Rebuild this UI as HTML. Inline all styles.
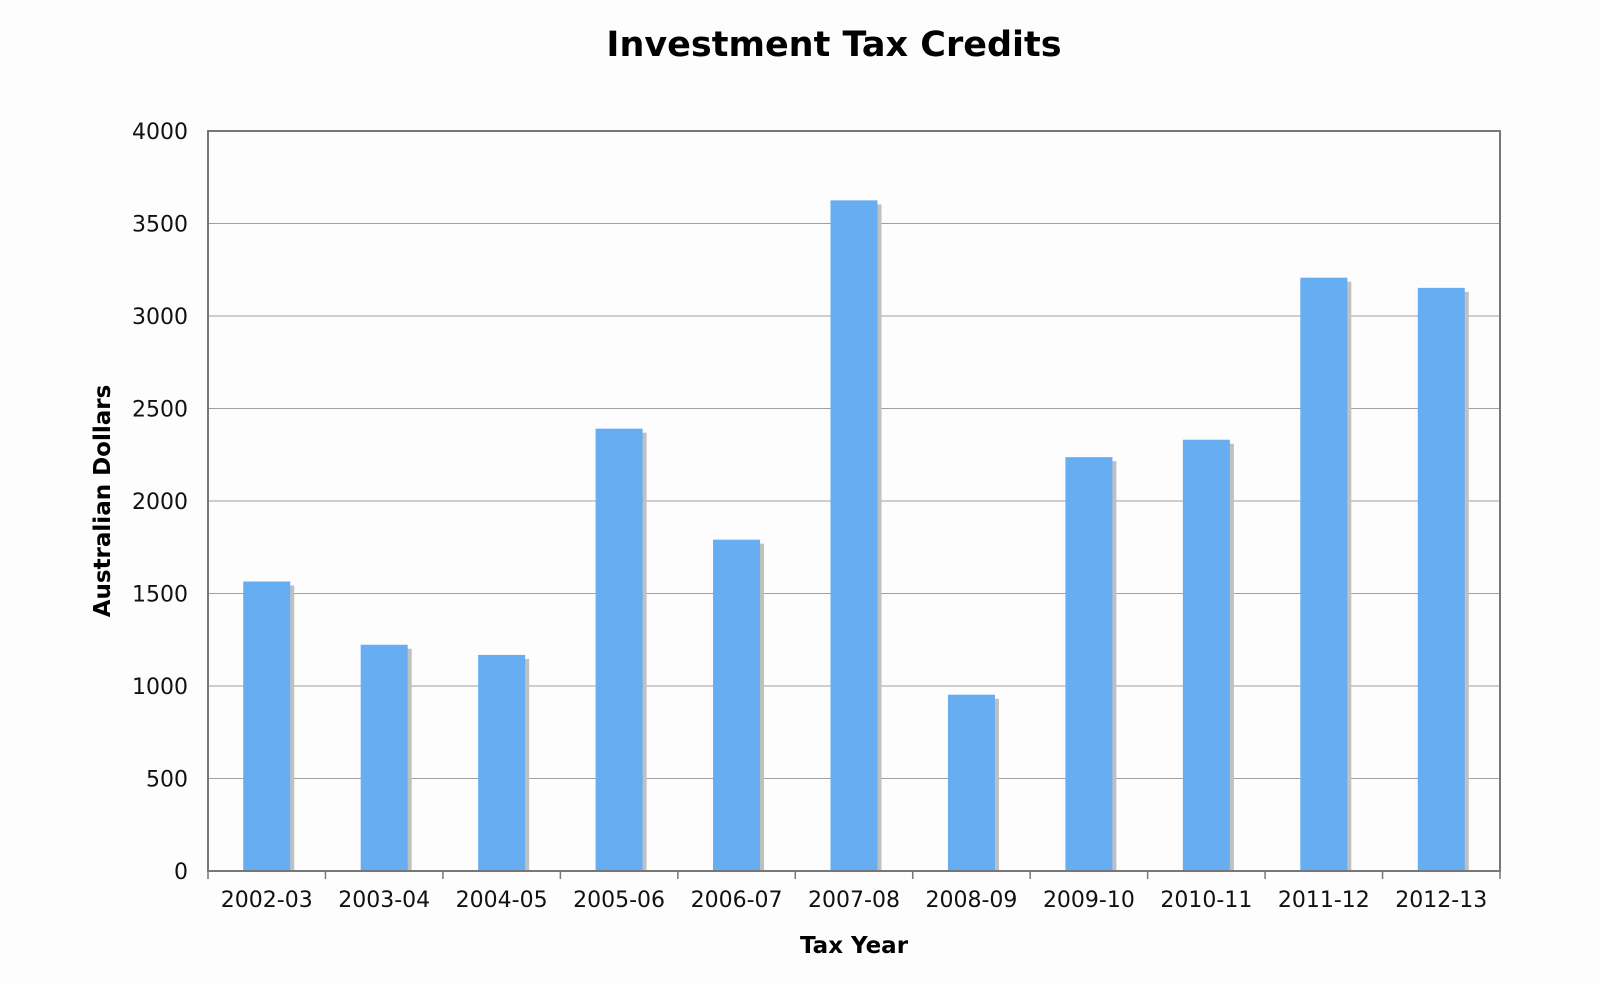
<!DOCTYPE html>
<html><head><meta charset="utf-8"><style>
body{margin:0;background:#fcfdfc;}
svg{display:block;font-family:"DejaVu Sans","Liberation Sans",sans-serif;}
</style></head><body>
<svg id="chart" width="1600" height="983">
<rect width="1600" height="983" fill="#fcfdfc"/>
<text x="834" y="56" text-anchor="middle" font-size="35" font-weight="bold">Investment Tax Credits</text>
<g id="grid"></g><g id="bars"></g><g id="axes"></g>
<text x="854" y="953" text-anchor="middle" font-size="23" font-weight="bold">Tax Year</text>
<text transform="translate(110,501) rotate(-90)" text-anchor="middle" font-size="23" font-weight="bold">Australian Dollars</text>
</svg>
<script>
const categories=["2002-03","2003-04","2004-05","2005-06","2006-07","2007-08","2008-09","2009-10","2010-11","2011-12","2012-13"];
const values=[1565,1223,1168,2391,1791,3625,953,2237,2331,3207,3152];
const yTicks=[0,500,1000,1500,2000,2500,3000,3500,4000];
const NS="http://www.w3.org/2000/svg";
const L=208,R=1500,T=131,B=871,yMax=4000;
const bw=(R-L)/categories.length;
const y=v=>B-(v/yMax)*(B-T);
const x=i=>L+bw*(i+0.5);
function mk(tag,attrs,parent){const e=document.createElementNS(NS,tag);for(const k in attrs)e.setAttribute(k,attrs[k]);parent.appendChild(e);return e;}
const grid=document.getElementById('grid'),bars=document.getElementById('bars'),axes=document.getElementById('axes');
yTicks.forEach(t=>{
  if(t>0&&t<yMax){const g=mk('line',{x1:L,x2:R,y1:y(t),y2:y(t),stroke:'#a0a0a0','stroke-width':1},grid);
  
  }
  const tl=mk('text',{x:L-20,y:y(t)+8,'text-anchor':'end','font-size':22,fill:'#111'},axes);
  tl.textContent=t;
  
  
});
const w=47;
values.forEach((v,i)=>{
  const s=mk('rect',{x:x(i)-w/2+4,y:y(v)+4,width:w,height:B-y(v)-4,fill:'#c0c0c0'},bars);
  
  
  const b=mk('rect',{x:x(i)-w/2,y:y(v),width:w,height:B-y(v),fill:'#66adf2'},bars);
  
  
});
const frame=mk('rect',{x:L,y:T,width:R-L,height:B-T,fill:'none',stroke:'#777','stroke-width':2},axes);


for(let i=0;i<=categories.length;i++){
  const tk=mk('line',{x1:L+bw*i,x2:L+bw*i,y1:B,y2:B+8,stroke:'#777','stroke-width':1.5},axes);
  
  
}
categories.forEach((c,i)=>{
  const tl=mk('text',{x:x(i),y:907,'text-anchor':'middle','font-size':22,fill:'#111'},axes);
  tl.textContent=c;
  
  
});
</script>
</body></html>
